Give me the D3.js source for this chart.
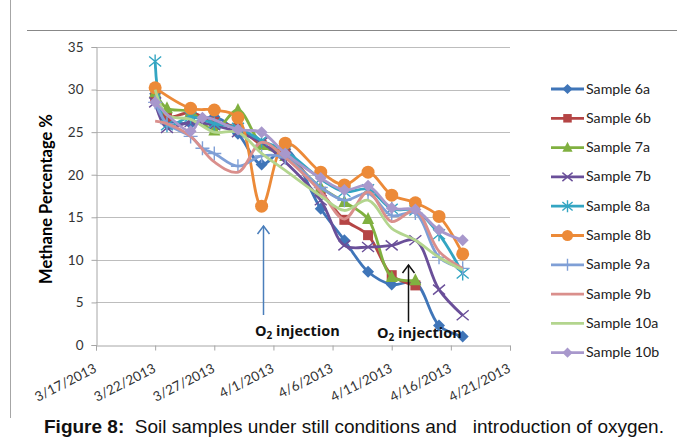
<!DOCTYPE html>
<html><head><meta charset="utf-8">
<script src="https://cdn.jsdelivr.net/npm/d3@7"></script>
<style>
body{margin:0;background:#fff;}
svg{display:block;}
</style></head>
<body>
<svg id="chart" width="677" height="439"></svg>
<script>
const dates = ["2013-03-22","2013-03-23","2013-03-25","2013-03-26","2013-03-27","2013-03-29","2013-03-31","2013-04-02","2013-04-05","2013-04-07","2013-04-09","2013-04-11","2013-04-13","2013-04-15","2013-04-17"];
const seriesNames = ["Sample 6a","Sample 6b","Sample 7a","Sample 7b","Sample 8a","Sample 8b","Sample 9a","Sample 9b","Sample 10a","Sample 10b"];
const s6a  = [29.5, 26.5, 26.0, null, 26.8, 24.8, 21.2, 23.0, 16.0, 12.3, 8.6, 7.1, 7.3, 2.3, 1.0];
const s6b  = [29.0, 26.8, 27.3, null, 26.2, 25.5, 23.5, 22.5, 18.0, 14.7, 12.9, 8.2, 7.0, null, null];
const s7a  = [29.7, 27.8, 27.4, null, 25.2, 27.6, 23.5, 22.2, 18.5, 16.8, 14.8, 8.0, 7.6, null, null];
const s7b  = [28.5, 25.5, 26.2, null, 25.8, 25.0, 23.8, 21.5, 17.0, 11.7, 11.5, 11.7, 12.3, 6.5, 3.5];
const s8a  = [33.3, 25.8, 26.8, null, 26.0, 25.5, 24.0, 22.8, 19.5, 18.0, 18.3, 16.0, 15.8, 13.0, 8.4];
const s8b  = [30.2, null, 27.8, null, 27.6, 26.7, 16.3, 23.7, 20.3, 18.8, 20.3, 17.6, 16.7, 15.1, 10.7];
const s9a  = [28.5, 26.0, 24.5, 23.1, 22.5, 21.0, 22.2, 22.0, 18.5, 17.0, 17.8, 15.2, 15.5, 10.3, 9.0];
const s9b  = [26.3, 26.0, 24.5, null, 21.5, 20.3, 23.8, 22.0, 18.0, 14.8, 18.0, 14.5, 15.8, 11.0, 9.0];
const s10a = [30.0, 27.0, 26.5, null, 25.0, 25.0, 22.5, 20.5, 17.5, 15.8, 17.0, 13.7, 12.3, 10.3, 8.8];
const s10b = [28.5, null, 25.1, 26.7, null, 25.3, 25.0, 22.5, 19.6, 18.2, 18.7, 16.1, 15.9, 13.5, 12.3];
const seriesValues = [s6a,s6b,s7a,s7b,s8a,s8b,s9a,s9b,s10a,s10b];
const xTickLabels = ["3/17/2013","3/22/2013","3/27/2013","4/1/2013","4/6/2013","4/11/2013","4/16/2013","4/21/2013"];
const yTicks = [0,5,10,15,20,25,30,35];

const colors = ["#3f75b8","#b54545","#80b040","#6a4f99","#33a5c2","#ec8a38","#7f9fd6","#da8f8c","#b3d58e","#a898cc"];
const markers = ["diamond","square","triangle","x","star","circle","plus","none","none","diamond"];

const svg = d3.select("#chart");
const parse = d3.timeParse("%Y-%m-%d");
const tickDates = xTickLabels.map(s => d3.timeParse("%m/%d/%Y")(s));

// frame
svg.append("line").attr("x1",10.5).attr("x2",10.5).attr("y1",0).attr("y2",418).attr("stroke","#a6a6a6").attr("stroke-width",1);
svg.append("line").attr("x1",27).attr("x2",677).attr("y1",30.5).attr("y2",30.5).attr("stroke","#888").attr("stroke-width",1.2);

const x = d3.scaleTime().domain([tickDates[0], tickDates[tickDates.length-1]]).range([96, 510]);
const y = d3.scaleLinear().domain([0,35]).range([345, 47]);

// gridlines
svg.append("g").selectAll("line").data(yTicks.filter(t=>t>0)).join("line")
  .attr("x1",96).attr("x2",510).attr("y1",d=>Math.round(y(d))+0.5).attr("y2",d=>Math.round(y(d))+0.5)
  .attr("stroke","#bdbdbd").attr("stroke-width",1.2);

// y axis
const yAxis = svg.append("g").attr("transform","translate(96.5,0)")
  .call(d3.axisLeft(y).tickValues(yTicks).tickSize(5).tickPadding(8));
yAxis.select(".domain").attr("stroke","#a6a6a6");
yAxis.selectAll(".tick line").attr("stroke","#a6a6a6");
yAxis.selectAll("text").attr("font-family","Lato, 'Open Sans', sans-serif").attr("font-size",13.5).attr("fill","#333");

// x axis
const xAxis = svg.append("g").attr("transform","translate(0,345.5)")
  .call(d3.axisBottom(x).tickValues(tickDates).tickSize(5).tickFormat((d,i)=>xTickLabels[i]));
xAxis.select(".domain").attr("stroke","#a6a6a6");
xAxis.selectAll(".tick line").attr("stroke","#a6a6a6");
xAxis.selectAll("text")
  .attr("font-family","Lato, 'Open Sans', sans-serif").attr("font-size",13.5).attr("fill","#333")
  .attr("text-anchor","end").attr("dy",0).attr("y",0)
  .attr("transform","translate(1,26) rotate(-27)");

// y title
svg.append("text").attr("transform","translate(52,199) rotate(-90)")
  .attr("text-anchor","middle").attr("font-family","Lato, 'Open Sans', sans-serif")
  .attr("font-weight","bold").attr("font-size",16.5).attr("fill","#000").text("Methane Percentage %");

// lines
const line = d3.line().x(d=>x(d.date)).y(d=>y(d.v)).curve(d3.curveCatmullRom.alpha(0.5));
const data = seriesNames.map((name,i)=>({
  name, color: colors[i], marker: markers[i],
  pts: dates.map((d,j)=>({date: parse(d), v: seriesValues[i][j]})).filter(p=>p.v!==null)
}));

function drawMarker(g, type, color, cx, cy, big) {
  const s = big ? 1 : 0.85;
  if (type==="diamond") g.append("path").attr("d",`M${cx},${cy-6*s}L${cx+6*s},${cy}L${cx},${cy+6*s}L${cx-6*s},${cy}Z`).attr("fill",color);
  else if (type==="square") g.append("rect").attr("x",cx-5*s).attr("y",cy-5*s).attr("width",10*s).attr("height",10*s).attr("fill",color);
  else if (type==="triangle") g.append("path").attr("d",`M${cx},${cy-7*s}L${cx+6*s},${cy+5*s}L${cx-6*s},${cy+5*s}Z`).attr("fill",color);
  else if (type==="circle") g.append("circle").attr("cx",cx).attr("cy",cy).attr("r",6.5*s).attr("fill",color);
  else if (type==="x") g.append("path").attr("d",`M${cx-6*s},${cy-5*s}L${cx+6*s},${cy+5*s}M${cx-6*s},${cy+5*s}L${cx+6*s},${cy-5*s}`).attr("stroke",color).attr("stroke-width",1.4).attr("fill","none");
  else if (type==="star") g.append("path").attr("d",`M${cx-6*s},${cy-5*s}L${cx+6*s},${cy+5*s}M${cx-6*s},${cy+5*s}L${cx+6*s},${cy-5*s}M${cx},${cy-7*s}L${cx},${cy+7*s}`).attr("stroke",color).attr("stroke-width",1.4).attr("fill","none");
  else if (type==="plus") g.append("path").attr("d",`M${cx-7*s},${cy}L${cx+7*s},${cy}M${cx},${cy-7*s}L${cx},${cy+7*s}`).attr("stroke",color).attr("stroke-width",1.4).attr("fill","none");
}

const plot = svg.append("g");
data.forEach(s=>{
  const g = plot.append("g");
  g.append("path").datum(s.pts).attr("d",line).attr("fill","none").attr("stroke",s.color).attr("stroke-width",2.8).attr("stroke-linejoin","round");
  s.pts.forEach(p=>drawMarker(g, s.marker, s.color, x(p.date), y(p.v), true));
});

// annotations
function arrow(xp, y1, y2, color){
  svg.append("line").attr("x1",xp).attr("x2",xp).attr("y1",y1).attr("y2",y2).attr("stroke",color).attr("stroke-width",1.5);
  svg.append("path").attr("d",`M${xp-6},${y2+8}L${xp},${y2}L${xp+6},${y2+8}`).attr("fill","none").attr("stroke",color).attr("stroke-width",1.5);
}
arrow(263.5, 315, 226, "#4a7ebb");
arrow(408.5, 322, 265, "#111");
function o2label(xp, yp){
  const t = svg.append("text").attr("x",xp).attr("y",yp).attr("font-family","'Open Sans', Lato, sans-serif")
    .attr("font-weight","bold").attr("font-size",14.5).attr("fill","#111");
  t.append("tspan").text("O");
  t.append("tspan").attr("font-size",10).attr("dy",3).text("2");
  t.append("tspan").attr("dy",-3).text(" injection");
}
o2label(255, 336);
o2label(377, 338);

// legend
const lg = svg.append("g");
data.forEach((s,i)=>{
  const yy = 89 + i*29.3;
  lg.append("line").attr("x1",551).attr("x2",584).attr("y1",yy).attr("y2",yy).attr("stroke",s.color).attr("stroke-width",2.8);
  drawMarker(lg, s.marker, s.color, 567.5, yy, false);
  lg.append("text").attr("x",586).attr("y",yy+4.5).attr("font-family","Lato, 'Open Sans', sans-serif")
    .attr("font-size",14.2).attr("fill","#222").text(s.name);
});

// caption
const cap = svg.append("text").attr("x",44).attr("y",433).attr("font-family","'Liberation Sans', Arial, sans-serif")
  .attr("font-size",19).attr("fill","#111").attr("xml:space","preserve").style("white-space","pre");
cap.append("tspan").attr("font-weight","bold").text("Figure 8:");
cap.append("tspan").text("  Soil samples under still conditions and   introduction of oxygen.");
</script>
</body></html>
